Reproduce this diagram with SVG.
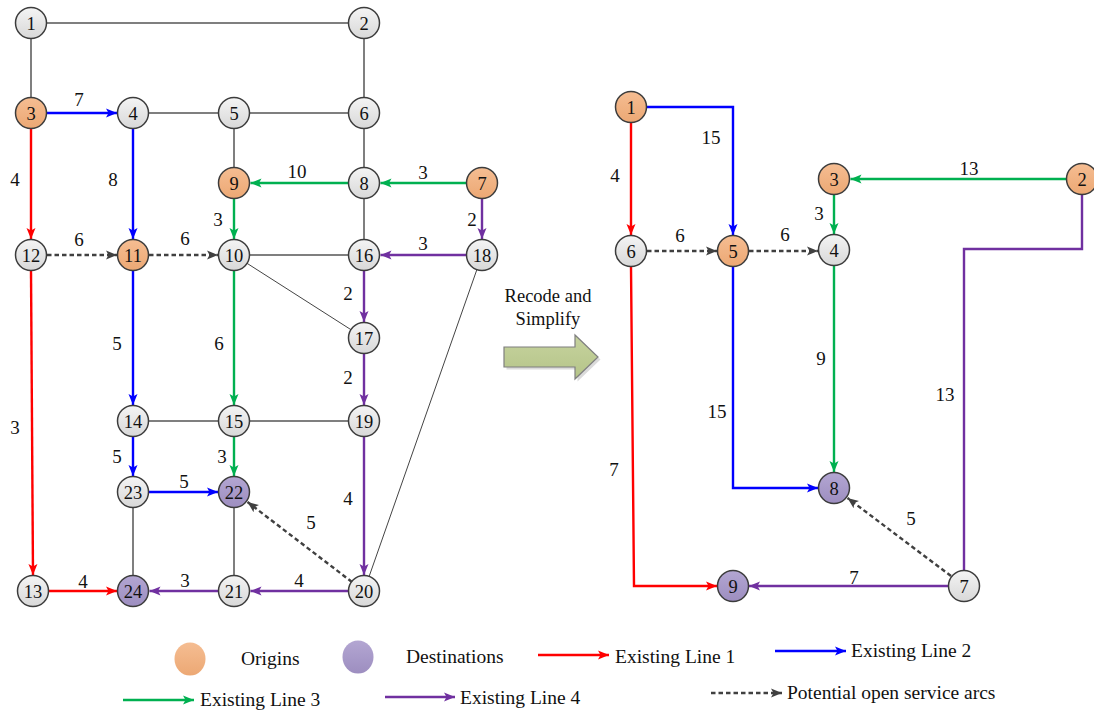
<svg xmlns="http://www.w3.org/2000/svg" width="1094" height="713" viewBox="0 0 1094 713" font-family="'Liberation Serif','Times New Roman',serif">
<defs>
<linearGradient id="gGray" x1="0" y1="0" x2="0" y2="1"><stop offset="0" stop-color="#f4f4f4"/><stop offset="1" stop-color="#d8d8d8"/></linearGradient>
<linearGradient id="gOrg" x1="0" y1="0" x2="0" y2="1"><stop offset="0" stop-color="#f5bd92"/><stop offset="1" stop-color="#eca874"/></linearGradient>
<linearGradient id="gPur" x1="0" y1="0" x2="0" y2="1"><stop offset="0" stop-color="#b3a6d2"/><stop offset="1" stop-color="#9d8ec0"/></linearGradient>
<linearGradient id="gArrow" x1="0" y1="0" x2="0" y2="1"><stop offset="0" stop-color="#c6d39e"/><stop offset="1" stop-color="#b5c488"/></linearGradient>
<marker id="aR" markerUnits="userSpaceOnUse" markerWidth="12" markerHeight="10" refX="11" refY="5" orient="auto"><path d="M0,0.5 L11,5 L0,9.5 L2.5,5 z" fill="#ff0000"/></marker>
<marker id="aB" markerUnits="userSpaceOnUse" markerWidth="12" markerHeight="10" refX="11" refY="5" orient="auto"><path d="M0,0.5 L11,5 L0,9.5 L2.5,5 z" fill="#0000ff"/></marker>
<marker id="aG" markerUnits="userSpaceOnUse" markerWidth="12" markerHeight="10" refX="11" refY="5" orient="auto"><path d="M0,0.5 L11,5 L0,9.5 L2.5,5 z" fill="#00b050"/></marker>
<marker id="aP" markerUnits="userSpaceOnUse" markerWidth="12" markerHeight="10" refX="11" refY="5" orient="auto"><path d="M0,0.5 L11,5 L0,9.5 L2.5,5 z" fill="#7030a0"/></marker>
<marker id="aD" markerUnits="userSpaceOnUse" markerWidth="12" markerHeight="10" refX="11" refY="5" orient="auto"><path d="M0,0.5 L11,5 L0,9.5 L2.5,5 z" fill="#404040"/></marker>
</defs>
<style>
text{font-family:"Liberation Serif","Times New Roman",serif;fill:#111}
.n circle{stroke:#3c3c3c;stroke-width:1.5}
.n text{font-size:18.5px;text-anchor:middle}
.g{fill:url(#gGray)}
.o{fill:url(#gOrg)}
.p{fill:url(#gPur)}
.gl{stroke:#555;stroke-width:1.5;fill:none}
.th{stroke:#444;stroke-width:1;fill:none}
.r{stroke:#ff0000;stroke-width:2.4;fill:none;marker-end:url(#aR)}
.b{stroke:#0000ff;stroke-width:2.4;fill:none;marker-end:url(#aB)}
.gr{stroke:#00b050;stroke-width:2.4;fill:none;marker-end:url(#aG)}
.pu{stroke:#7030a0;stroke-width:2.4;fill:none;marker-end:url(#aP)}
.pun{stroke:#7030a0;stroke-width:2.4;fill:none}
.d{stroke:#404040;stroke-width:2.4;fill:none;stroke-dasharray:4.5,3;marker-end:url(#aD)}
.lb{font-size:19px;text-anchor:middle}
.lg{font-size:19.5px}
</style>

<g id="connectors">
<line class="gl" x1="31" y1="23" x2="364" y2="23"/>
<line class="gl" x1="31" y1="23" x2="31" y2="113"/>
<line class="gl" x1="364" y1="23" x2="364" y2="113"/>
<line class="gl" x1="133" y1="113" x2="364" y2="113"/>
<line class="gl" x1="234" y1="113" x2="234" y2="183"/>
<line class="gl" x1="364" y1="113" x2="364" y2="255"/>
<line class="gl" x1="234" y1="255" x2="364" y2="255"/>
<line class="th" x1="234" y1="255" x2="364" y2="338"/>
<line class="gl" x1="133" y1="421" x2="364" y2="421"/>
<line class="gl" x1="133" y1="492" x2="133" y2="591"/>
<line class="gl" x1="234" y1="492" x2="234" y2="591"/>
<line class="th" x1="482" y1="255" x2="364" y2="591"/>
<line class="b" x1="47" y1="113" x2="117" y2="113"/>
<line class="r" x1="31" y1="129" x2="31" y2="239"/>
<line class="b" x1="133" y1="129" x2="133" y2="239"/>
<line class="gr" x1="348" y1="183" x2="250.5" y2="183"/>
<line class="gr" x1="466" y1="183" x2="380.5" y2="183"/>
<line class="gr" x1="234" y1="199" x2="234" y2="239"/>
<line class="pu" x1="482" y1="199" x2="482" y2="239"/>
<line class="d" x1="47" y1="255" x2="117" y2="255"/>
<line class="d" x1="149" y1="255" x2="218" y2="255"/>
<line class="pu" x1="466" y1="255" x2="380.5" y2="255"/>
<line class="pu" x1="364" y1="271" x2="364" y2="322"/>
<line class="b" x1="133" y1="271" x2="133" y2="405"/>
<line class="gr" x1="234" y1="271" x2="234" y2="405"/>
<line class="pu" x1="364" y1="354" x2="364" y2="405"/>
<line class="r" x1="31" y1="271" x2="33" y2="575"/>
<line class="b" x1="133" y1="437" x2="133" y2="476"/>
<line class="gr" x1="234" y1="437" x2="234" y2="476"/>
<line class="b" x1="149" y1="492" x2="218" y2="492"/>
<line class="pu" x1="364" y1="437" x2="364" y2="575"/>
<line class="d" x1="352" y1="582" x2="247.5" y2="502"/>
<line class="r" x1="49" y1="591" x2="117" y2="591"/>
<line class="pu" x1="218" y1="591" x2="149.5" y2="591"/>
<line class="pu" x1="348" y1="591" x2="250.5" y2="591"/>
<line class="r" x1="631" y1="123" x2="631" y2="235"/>
<polyline class="b" points="647,107 733,107 733,235"/>
<line class="d" x1="647" y1="251" x2="717" y2="251"/>
<line class="d" x1="749" y1="251" x2="818" y2="251"/>
<line class="gr" x1="1066" y1="179" x2="850.5" y2="179"/>
<line class="gr" x1="834" y1="195" x2="834" y2="234"/>
<line class="gr" x1="834" y1="266" x2="834" y2="472"/>
<polyline class="b" points="733,267 733,488 818,488"/>
<polyline class="r" points="631,267 634,586 717,586"/>
<polyline class="pun" points="1082,195 1082,249 964,249 964,570"/>
<line class="pu" x1="948" y1="586" x2="749" y2="586"/>
<line class="d" x1="951" y1="576" x2="847.5" y2="498"/>
</g>

<g id="edge-labels">
<text class="lb" x="79" y="106">7</text>
<text class="lb" x="15" y="186">4</text>
<text class="lb" x="113" y="186">8</text>
<text class="lb" x="297" y="178">10</text>
<text class="lb" x="423" y="179">3</text>
<text class="lb" x="218" y="226">3</text>
<text class="lb" x="472" y="226">2</text>
<text class="lb" x="79" y="246">6</text>
<text class="lb" x="185" y="245">6</text>
<text class="lb" x="423" y="250">3</text>
<text class="lb" x="348" y="300">2</text>
<text class="lb" x="117" y="350">5</text>
<text class="lb" x="219" y="350">6</text>
<text class="lb" x="348" y="384">2</text>
<text class="lb" x="15" y="434">3</text>
<text class="lb" x="117" y="463">5</text>
<text class="lb" x="222" y="463">3</text>
<text class="lb" x="184" y="488">5</text>
<text class="lb" x="348" y="505">4</text>
<text class="lb" x="311" y="529">5</text>
<text class="lb" x="83" y="588">4</text>
<text class="lb" x="185" y="587">3</text>
<text class="lb" x="299" y="587">4</text>
<text class="lb" x="615" y="182">4</text>
<text class="lb" x="711" y="144">15</text>
<text class="lb" x="680" y="242">6</text>
<text class="lb" x="785" y="241">6</text>
<text class="lb" x="969" y="175">13</text>
<text class="lb" x="819" y="220">3</text>
<text class="lb" x="821" y="365">9</text>
<text class="lb" x="717" y="418">15</text>
<text class="lb" x="614" y="476">7</text>
<text class="lb" x="945" y="401">13</text>
<text class="lb" x="911" y="525">5</text>
<text class="lb" x="854" y="584">7</text>
</g>

<g id="nodes-left" class="n">
<g id="L1"><circle class="g" cx="31" cy="23" r="15.5"/><text x="31" y="29.5">1</text></g>
<g id="L2"><circle class="g" cx="364" cy="23" r="15.5"/><text x="364" y="29.5">2</text></g>
<g id="L3"><circle class="o" cx="31" cy="113" r="15.5"/><text x="31" y="119.5">3</text></g>
<g id="L4"><circle class="g" cx="133" cy="113" r="15.5"/><text x="133" y="119.5">4</text></g>
<g id="L5"><circle class="g" cx="234" cy="113" r="15.5"/><text x="234" y="119.5">5</text></g>
<g id="L6"><circle class="g" cx="364" cy="113" r="15.5"/><text x="364" y="119.5">6</text></g>
<g id="L9"><circle class="o" cx="234" cy="183" r="15.5"/><text x="234" y="189.5">9</text></g>
<g id="L8"><circle class="g" cx="364" cy="183" r="15.5"/><text x="364" y="189.5">8</text></g>
<g id="L7"><circle class="o" cx="482" cy="183" r="15.5"/><text x="482" y="189.5">7</text></g>
<g id="L12"><circle class="g" cx="31" cy="255" r="15.5"/><text x="31" y="261.5">12</text></g>
<g id="L11"><circle class="o" cx="133" cy="255" r="15.5"/><text x="133" y="261.5">11</text></g>
<g id="L10"><circle class="g" cx="234" cy="255" r="15.5"/><text x="234" y="261.5">10</text></g>
<g id="L16"><circle class="g" cx="364" cy="255" r="15.5"/><text x="364" y="261.5">16</text></g>
<g id="L18"><circle class="g" cx="482" cy="255" r="15.5"/><text x="482" y="261.5">18</text></g>
<g id="L17"><circle class="g" cx="364" cy="338" r="15.5"/><text x="364" y="344.5">17</text></g>
<g id="L14"><circle class="g" cx="133" cy="421" r="15.5"/><text x="133" y="427.5">14</text></g>
<g id="L15"><circle class="g" cx="234" cy="421" r="15.5"/><text x="234" y="427.5">15</text></g>
<g id="L19"><circle class="g" cx="364" cy="421" r="15.5"/><text x="364" y="427.5">19</text></g>
<g id="L23"><circle class="g" cx="133" cy="492" r="15.5"/><text x="133" y="498.5">23</text></g>
<g id="L22"><circle class="p" cx="234" cy="492" r="15.5"/><text x="234" y="498.5">22</text></g>
<g id="L13"><circle class="g" cx="33" cy="591" r="15.5"/><text x="33" y="597.5">13</text></g>
<g id="L24"><circle class="p" cx="133" cy="591" r="15.5"/><text x="133" y="597.5">24</text></g>
<g id="L21"><circle class="g" cx="234" cy="591" r="15.5"/><text x="234" y="597.5">21</text></g>
<g id="L20"><circle class="g" cx="364" cy="591" r="15.5"/><text x="364" y="597.5">20</text></g>
</g>

<g id="nodes-right" class="n">
<g id="R1"><circle class="o" cx="631" cy="107" r="15.5"/><text x="631" y="113.5">1</text></g>
<g id="R6"><circle class="g" cx="631" cy="251" r="15.5"/><text x="631" y="257.5">6</text></g>
<g id="R5"><circle class="o" cx="733" cy="251" r="15.5"/><text x="733" y="257.5">5</text></g>
<g id="R4"><circle class="g" cx="834" cy="250" r="15.5"/><text x="834" y="256.5">4</text></g>
<g id="R3"><circle class="o" cx="834" cy="179" r="15.5"/><text x="834" y="185.5">3</text></g>
<g id="R2"><circle class="o" cx="1082" cy="179" r="15.5"/><text x="1082" y="185.5">2</text></g>
<g id="R8"><circle class="p" cx="834" cy="488" r="15.5"/><text x="834" y="494.5">8</text></g>
<g id="R9"><circle class="p" cx="733" cy="586" r="15.5"/><text x="733" y="592.5">9</text></g>
<g id="R7"><circle class="g" cx="964" cy="586" r="15.5"/><text x="964" y="592.5">7</text></g>
</g>

<g id="transform-arrow">
<text x="548" y="302" style="font-size:18.5px;text-anchor:middle">Recode and</text>
<text x="548" y="325" style="font-size:18.5px;text-anchor:middle">Simplify</text>
<path d="M505,348 L576,348 L576,336 L599,358 L576,380 L576,368 L505,368 z" fill="#999" opacity="0.35" transform="translate(1.5,1.5)"/>
<path d="M504,347 L575,347 L575,335 L598,357 L575,379 L575,367 L504,367 z" fill="url(#gArrow)" stroke="#7f7f7f" stroke-width="1.2"/>
</g>

<g id="legend">
<ellipse cx="190" cy="659" rx="15.5" ry="16.5" fill="url(#gOrg)"/>
<text class="lg" x="241" y="665">Origins</text>
<ellipse cx="358" cy="657" rx="15.5" ry="16.5" fill="url(#gPur)"/>
<text class="lg" x="406" y="663">Destinations</text>
<line class="r" x1="538" y1="655" x2="609" y2="655"/>
<text class="lg" x="615" y="663">Existing Line 1</text>
<line class="b" x1="775" y1="651" x2="846" y2="651"/>
<text class="lg" x="851" y="657">Existing Line 2</text>
<line class="gr" x1="123" y1="700" x2="194" y2="700"/>
<text class="lg" x="200" y="706">Existing Line 3</text>
<line class="pu" x1="385" y1="697" x2="455" y2="697"/>
<text class="lg" x="460" y="704">Existing Line 4</text>
<line class="d" x1="711" y1="693" x2="782" y2="693"/>
<text class="lg" x="787" y="699">Potential open service arcs</text>
</g>
</svg>
